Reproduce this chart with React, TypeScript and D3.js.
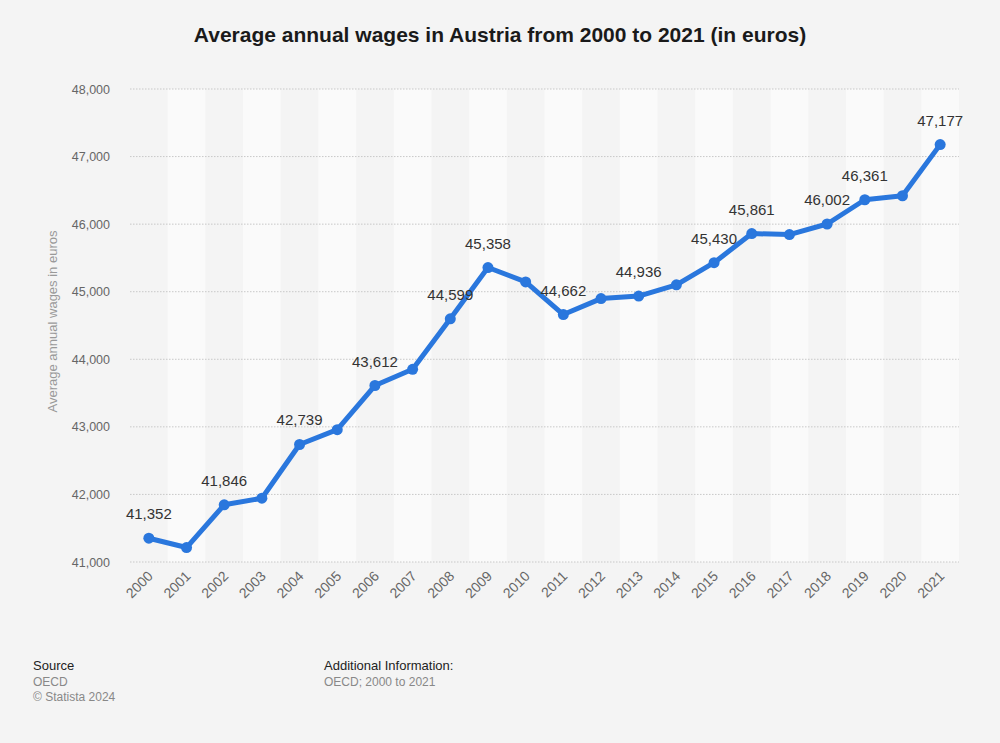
import React from "react";
import * as d3 from "d3";

const years = ["2000","2001","2002","2003","2004","2005","2006","2007","2008","2009","2010","2011","2012","2013","2014","2015","2016","2017","2018","2019","2020","2021"];
const wages = [41352,41214,41846,41944,42739,42958,43612,43852,44599,45358,45145,44662,44898,44936,45102,45430,45861,45845,46002,46361,46420,47177];
const labeled = ["2000","2002","2004","2006","2008","2009","2011","2013","2015","2016","2018","2019","2021"];
const yTicks = [41000,42000,43000,44000,45000,46000,47000,48000];

const W = 1000, H = 743;
const M = { left: 130, right: 959, top: 89, bottom: 562 };

export default function App() {
  const x = d3.scaleBand().domain(years).range([M.left, M.right]).paddingInner(0).paddingOuter(0);
  const y = d3.scaleLinear().domain([41000, 48000]).range([M.bottom, M.top]);
  const cx = (d: string) => (x(d) as number) + x.bandwidth() / 2;
  const line = d3.line<number>().x((_, i) => cx(years[i])).y((v) => y(v));
  const fmt = d3.format(",");
  const font = "'Liberation Sans', Arial, sans-serif";
  return (
    <svg width={W} height={H} style={{ display: "block", position: "absolute", left: 0, top: 0 }} fontFamily={font}>
      <rect width={W} height={H} fill="#f4f4f4" />
      <text x={500} y={42} textAnchor="middle" fontSize={21} fontWeight="bold" fill="#1a1a1a">
        Average annual wages in Austria from 2000 to 2021 (in euros)
      </text>
      {years.map((yr, i) =>
        i % 2 === 1 ? (
          <rect key={yr} x={x(yr)} y={M.top} width={x.bandwidth()} height={M.bottom - M.top} fill="#fafafa" />
        ) : null
      )}
      {yTicks.map((t) => (
        <g key={t}>
          <line x1={M.left} x2={M.right} y1={y(t)} y2={y(t)} stroke="#c8c8c8" strokeDasharray="1.5,1.5" strokeWidth={1} />
          <text x={110} y={y(t) + 4.5} textAnchor="end" fontSize={12.5} fill="#666">{fmt(t)}</text>
        </g>
      ))}
      <text transform={`translate(57,${(M.top + M.bottom) / 2 - 4}) rotate(-90)`} textAnchor="middle" fontSize={13} fill="#999">
        Average annual wages in euros
      </text>
      {years.map((yr) => (
        <text key={yr} transform={`translate(${cx(yr) + 5},${M.bottom + 15}) rotate(-45)`} textAnchor="end" fontSize={14} fill="#666">
          {yr}
        </text>
      ))}
      <path d={line(wages) as string} fill="none" stroke="#2a77dd" strokeWidth={5} strokeLinejoin="round" strokeLinecap="round" />
      {wages.map((v, i) => (
        <circle key={i} cx={cx(years[i])} cy={y(v)} r={5.5} fill="#2a77dd" />
      ))}
      {wages.map((v, i) =>
        labeled.includes(years[i]) ? (
          <text key={"l" + i} x={cx(years[i])} y={y(v) - 19} textAnchor="middle" fontSize={15} fill="#333">
            {fmt(v)}
          </text>
        ) : null
      )}
      <text x={33} y={670} fontSize={13} fill="#222">Source</text>
      <text x={33} y={686} fontSize={12} fill="#888">OECD</text>
      <text x={33} y={701} fontSize={12} fill="#888">© Statista 2024</text>
      <text x={324} y={670} fontSize={13} fill="#222">Additional Information:</text>
      <text x={324} y={686} fontSize={12} fill="#888">OECD; 2000 to 2021</text>
    </svg>
  );
}
